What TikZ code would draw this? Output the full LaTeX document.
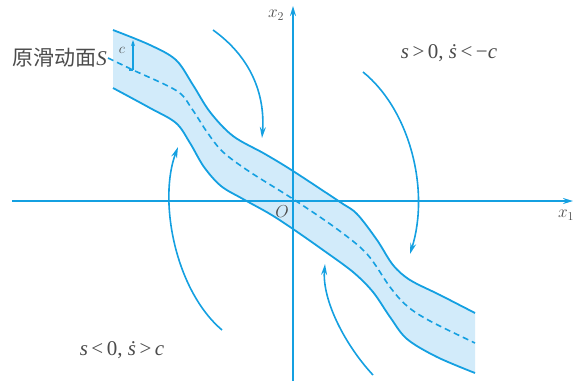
\documentclass[tikz,border=0pt]{standalone}
\usepackage{fontspec}
\newfontfamily\cjk{Noto Sans CJK SC}
\newfontfamily\tms{Liberation Serif}
\usetikzlibrary{arrows.meta}
\definecolor{lineblue}{RGB}{20,160,225}
\definecolor{bandfill}{RGB}{210,235,250}
\definecolor{txtgray}{RGB}{75,75,75}
\tikzset{
  axisline/.style={lineblue, line width=1.7pt, -{Stealth[length=10pt,width=6pt]}},
  bandline/.style={lineblue, line width=1.8pt},
  midline/.style={lineblue, line width=1.6pt, dash pattern=on 6pt off 4pt},
  flowarrow/.style={lineblue, line width=1.6pt, -{Stealth[length=11pt,width=6pt]}},
  lbl/.style={text=txtgray, inner sep=0pt, font=\fontsize{18}{21}\selectfont},
  cond/.style={text=txtgray, inner sep=0pt, font=\tms\fontsize{21}{24}\selectfont},
}
\begin{document}
\begin{tikzpicture}[x=1pt,y=-1pt]
\useasboundingbox (0,0) rectangle (575,381);
% band fill
\fill[bandfill] plot[smooth,tension=0.55] coordinates {(113,30) (150,45) (176,60) (193,85) (210,112) (233,136) (265,154) (293,171) (340,202) (357,214) (377,240) (393,265) (410,280) (440,295) (475,313)}
  -- plot[smooth,tension=0.55] coordinates {(475,373) (437,357) (407,339) (390,317) (373,292) (353,272) (323,250) (293,229) (270,214) (243,199) (221,186) (204,167) (190,143) (176,123) (150,108) (113,88)} -- cycle;
% boundaries
\draw[bandline] plot[smooth,tension=0.55] coordinates {(113,30) (150,45) (176,60) (193,85) (210,112) (233,136) (265,154) (293,171) (340,202) (357,214) (377,240) (393,265) (410,280) (440,295) (475,313)};
\draw[bandline] plot[smooth,tension=0.55] coordinates {(475,373) (437,357) (407,339) (390,317) (373,292) (353,272) (323,250) (293,229) (270,214) (243,199) (221,186) (204,167) (190,143) (176,123) (150,108) (113,88)};
% middle dashed
\draw[midline] plot[smooth,tension=0.55] coordinates {(108,58) (133,70) (177,91) (192,109) (207,132) (223,152) (250,172) (293,199) (337,229) (367,254) (390,287) (407,306) (430,321) (475,343)};
% axes
\coordinate (xs) at (12,201);
\coordinate (xe) at (573,201);
\coordinate (ys) at (293,381);
\coordinate (ye) at (293,6);
\draw[axisline] (xs) -- (xe);
\draw[axisline] (ys) -- (ye);
% epsilon marker
\coordinate (es) at (133,70);
\coordinate (ee) at (133,40);
\draw[lineblue, line width=1.3pt] (129,70) -- (es);
\draw[lineblue, line width=1.3pt, -{Stealth[length=6pt,width=4pt]}] (es) -- (ee);
% flow arrows
\coordinate (a1s) at (213,30);  \coordinate (a1e) at (262,138);
\coordinate (a2s) at (222,330); \coordinate (a2e) at (178,147);
\coordinate (a3s) at (363,72);  \coordinate (a3e) at (410,254);
\coordinate (a4s) at (373,375); \coordinate (a4e) at (325,264);
\draw[flowarrow] (a1s) .. controls (255,60) and (265,100) .. (a1e);
\draw[flowarrow] (a2s) .. controls (175,290) and (158,200) .. (a2e);
\draw[flowarrow] (a3s) .. controls (410,110) and (430,190) .. (a3e);
\draw[flowarrow] (a4s) .. controls (345,345) and (322,300) .. (a4e);
% labels
\node[lbl, anchor=east, font=\fontsize{21}{24}\selectfont] (slabel) at (107,58) {{\cjk 原滑动面}{\tms\itshape S}};
\node[lbl, font=\fontsize{14}{16}\selectfont] (eps) at (122,50) {$c$};
\node[cond] (topr) at (449,53) {{\itshape s}\,>\,0, {\itshape ṡ}\,<\,−{\itshape c}};
\node[cond] (botl) at (122,350) {{\itshape s}\,<\,0, {\itshape ṡ}\,>\,{\itshape c}};
\node[lbl, font=\fontsize{17}{20}\selectfont] (o) at (282,212) {$O$};
\node[lbl, font=\fontsize{17}{20}\selectfont] (x1) at (566,215) {$x_1$};
\node[lbl, font=\fontsize{17}{20}\selectfont] (x2) at (276,15) {$x_2$};
\end{tikzpicture}
\end{document}
